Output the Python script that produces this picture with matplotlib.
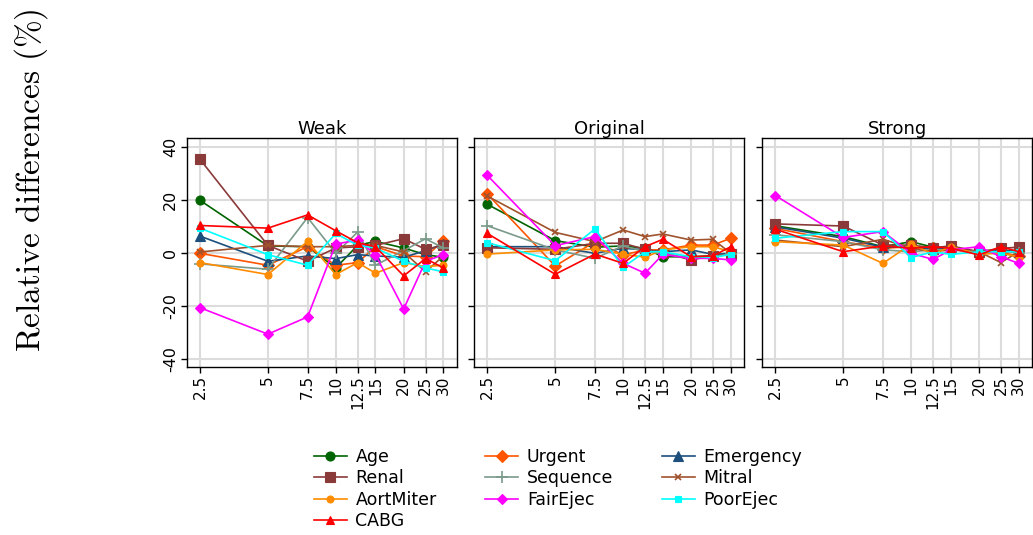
import matplotlib
matplotlib.use("Agg")
import matplotlib.pyplot as plt
from matplotlib.ticker import FixedLocator, NullLocator

# x values (log scale) and labels
x_vals = [2.5, 5, 7.5, 10, 12.5, 15, 20, 25, 30]
x_labels = ["2.5", "5", "7.5", "10", "12.5", "15", "20", "25", "30"]
panel_titles = ["Weak", "Original", "Strong"]
series_names = ["Age", "Urgent", "Emergency", "Renal", "Sequence",
                "Mitral", "AortMiter", "FairEjec", "PoorEjec", "CABG"]

# Weak
weak_age = [20, 2.8, 2.5, -5.5, 3, 4.5, 2, -0.5, -1.5]
weak_urgent = [0, -4.5, 2.5, -4.5, -3.5, 2.5, -1, -1.3, 4.8]
weak_emergency = [6.5, -3, -1, -2, -0.5, -1, -1.5, 1, 3.5]
weak_renal = [35.5, 3, -3, 2, 2.5, 3, 5.5, 1.5, 3]
weak_sequence = [-4, -6, 13.5, 0, 8, -4.5, 1, 5.5, 2]
weak_mitral = [0.5, 3, 2.5, 2.5, 3, 3, 0.5, -7, -1]
weak_aortmiter = [-3.5, -8, 4.5, -8, -3.5, -7.5, -3.5, -5, -4.5]
weak_fairejec = [-20.5, -30.5, -24, 3.5, 5, -0.5, -21, -3, -0.5]
weak_poorejec = [9.5, -0.5, -4.5, 7.5, 3, 2, -3, -5.5, -7]
weak_cabg = [10.5, 9.5, 14.5, 8.5, 4, 2.5, -8.5, -2, -5.5]

# Original
orig_age = [18.5, 4.8, 2.3, 2.8, 1.9, -1.3, -1.3, -0.9, -0.3]
orig_urgent = [22.4, -4.8, 4.4, -0.6, 1.3, 1.3, 3.1, 3.1, 5.7]
orig_emergency = [2.5, 2.5, 0, 1.9, 1.3, 0.6, 1.3, -0.4, 0]
orig_renal = [2.1, 1.5, 3.8, 3.8, 1.5, 0.3, -2.5, -0.9, -0.3]
orig_sequence = [10.4, 1.3, -1.9, 2.8, 0.6, 0, -1.9, -1.3, -0.3]
orig_mitral = [21.6, 7.9, 4.4, 8.8, 6.3, 7.3, 5, 5.3, 0]
orig_aortmiter = [-0.3, 1.3, 1.5, -0.3, -1.5, 1.3, 2.5, 2.5, 0.6]
orig_fairejec = [29.4, 2.9, 6.3, -3.8, -7.5, -0.4, -1.9, -1.9, -2.5]
orig_poorejec = [4, -2.8, 9.2, -5.3, 0.6, 0.6, -1.3, -1.6, -0.4]
orig_cabg = [7.5, -7.9, -0.3, -3.8, 2.5, 5.3, -1.3, -1, 2.5]

# Strong
strong_age = [10.4, 6.3, 2.5, 4.4, 2.3, 2.3, 0.3, 1.3, 0.6]
strong_urgent = [9.4, 4.4, 1.9, 2.5, 1.9, 2.3, 0, 0.3, -1]
strong_emergency = [10, 5.7, 2.3, 2.5, 1.5, 1.9, 0.6, 1.3, 0.6]
strong_renal = [11.1, 10.3, 3.1, 3.1, 2.1, 2.8, 0.6, 1.9, 2.3]
strong_sequence = [7, 4.4, 1.3, 0.6, 1.3, 1.3, 0.6, 0.6, 0.3]
strong_mitral = [5, 2.5, 5.3, 1.9, 0.6, 1.3, 0.6, -3.5, 0.6]
strong_aortmiter = [4.4, 3.1, -3.8, 3.5, -0.3, 2.5, -0.3, 0, -1.3]
strong_fairejec = [21.8, 6, 8.2, 0, -2.3, 1.3, 2.5, -1.3, -3.8]
strong_poorejec = [5.7, 8.2, 8.2, -1.6, 0.6, -0.4, 0.6, 0.6, 0.6]
strong_cabg = [9.1, 0.6, 2.8, 1.9, 2.5, 1.9, -0.6, 2.5, 0.6]

panel_data = [
    [weak_age, weak_urgent, weak_emergency, weak_renal, weak_sequence,
     weak_mitral, weak_aortmiter, weak_fairejec, weak_poorejec, weak_cabg],
    [orig_age, orig_urgent, orig_emergency, orig_renal, orig_sequence,
     orig_mitral, orig_aortmiter, orig_fairejec, orig_poorejec, orig_cabg],
    [strong_age, strong_urgent, strong_emergency, strong_renal, strong_sequence,
     strong_mitral, strong_aortmiter, strong_fairejec, strong_poorejec, strong_cabg],
]

# styles: color, marker, markersize
styles = {
    "Age": ("#006400", "o", 6.5),
    "Urgent": ("#FF5500", "D", 6.0),
    "Emergency": ("#1C4F7C", "^", 7.0),
    "Renal": ("#8B3A3A", "s", 6.5),
    "Sequence": ("#7A9A8A", "+", 8.5),
    "Mitral": ("#A0522D", "x", 4.5),
    "AortMiter": ("#FF8C00", "o", 5.0),
    "FairEjec": ("#FF00FF", "D", 4.8),
    "PoorEjec": ("#00FFFF", "s", 5.0),
    "CABG": ("#FF0000", "^", 6.0),
}

plt.rcParams["mathtext.fontset"] = "cm"
fig = plt.figure(figsize=(10.33, 5.35), dpi=100)

lefts = [0.1807, 0.4589, 0.7377]
handles = {}
for i, (title, values) in enumerate(zip(panel_titles, panel_data)):
    ax = fig.add_axes([lefts[i], 0.314, 0.2614, 0.428])
    for name, ys in zip(series_names, values):
        color, marker, ms = styles[name]
        line, = ax.plot(x_vals, ys, color=color, marker=marker, markersize=ms,
                        linewidth=1.2, markeredgewidth=1.2 if marker in "+x" else 0.8,
                        markeredgecolor=color, label=name)
        handles[name] = line
    ax.set_xscale("log")
    ax.set_xlim(2.183, 34.36)
    ax.set_ylim(-42.9, 43.5)
    ax.xaxis.set_major_locator(FixedLocator(x_vals))
    ax.xaxis.set_minor_locator(NullLocator())
    ax.set_xticklabels(x_labels, rotation=90, fontsize=11)
    ax.set_yticks([-40, -20, 0, 20, 40])
    if i == 0:
        ax.set_yticklabels(["-40", "-20", "0", "20", "40"], rotation=90,
                           va="center", fontsize=11.5)
    else:
        ax.set_yticklabels([])
    ax.grid(True, color="#DCDCDC", linewidth=1.5)
    ax.set_axisbelow(True)
    ax.tick_params(length=4, width=1, pad=2)
    for sp in ax.spines.values():
        sp.set_linewidth(1.0)
    ax.set_title(title, fontsize=13, pad=3)

fig.text(0.03, 0.664, r"$\mathrm{Relative\ differences\ (\%)}$", rotation=90,
         fontsize=24, ha="center", va="center")

# legend filled column by column: 4, 3, 3
order = ["Age", "Renal", "AortMiter", "CABG",
         "Urgent", "Sequence", "FairEjec",
         "Emergency", "Mitral", "PoorEjec"]
fig.legend([handles[n] for n in order], order, ncol=3, loc="upper left",
           bbox_to_anchor=(0.292, 0.186), frameon=False, fontsize=12.5,
           handlelength=1.9, handletextpad=0.5, columnspacing=2.8,
           labelspacing=0.2, borderpad=0.2)

fig.savefig("out.png", dpi=100)
